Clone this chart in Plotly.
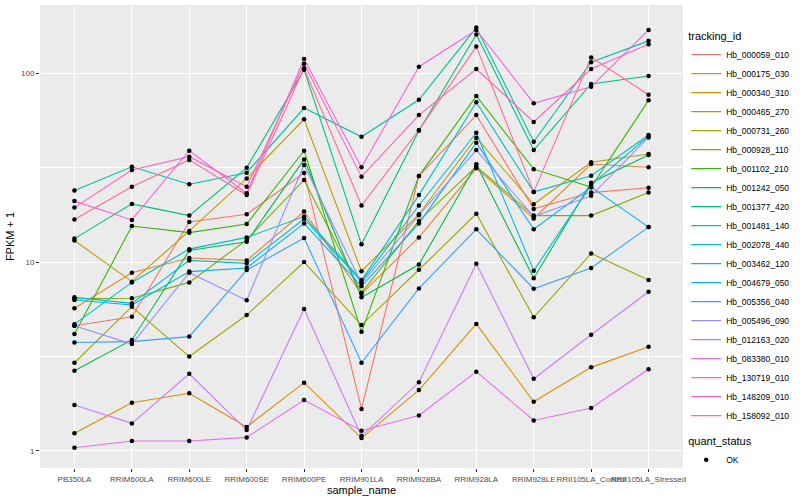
import plotly.graph_objects as go

samples = ["PB350LA", "RRIM600LA", "RRIM600LE", "RRIM600SE", "RRIM600PE", "RRIM901LA",
           "RRIM928BA", "RRIM928LA", "RRIM928LE", "RRII105LA_Control", "RRII105LA_Stressed"]

# FPKM + 1 values
Hb_000059_010 = [4.6, 5.13, 16.3, 17.9, 29.6, 1.67, 28.5, 59.9, 19.1, 23.3, 24.7]
Hb_000175_030 = [5.69, 8.78, 10.5, 10.2, 18.5, 6.78, 13.5, 31.3, 17.0, 33.0, 31.7]
Hb_000340_310 = [1.24, 1.80, 2.02, 1.34, 2.30, 1.17, 2.10, 4.70, 1.82, 2.77, 3.56]
Hb_000465_270 = [13.0, 7.87, 14.6, 27.7, 56.9, 8.94, 17.9, 45.5, 20.2, 33.7, 37.3]
Hb_000731_260 = [2.93, 5.8, 3.16, 5.24, 10.0, 4.64, 9.1, 18.0, 5.10, 11.1, 8.03]
Hb_000928_110 = [6.4, 6.43, 7.8, 13.1, 27.2, 6.88, 16.5, 32.0, 17.6, 17.6, 23.3]
Hb_001102_210 = [4.16, 15.5, 14.3, 15.9, 38.8, 4.27, 28.5, 75.6, 31.0, 24.9, 71.7]
Hb_001242_050 = [2.66, 3.87, 11.5, 12.8, 34.9, 6.5, 9.69, 32.9, 8.2, 26.3, 36.8]
Hb_001377_420 = [13.3, 20.3, 17.6, 31.5, 104, 12.4, 49.5, 160, 39.1, 87.5, 96.4]
Hb_001481_140 = [23.9, 31.9, 25.8, 29.7, 65.3, 46.0, 72.2, 174, 43.3, 114, 148]
Hb_002078_440 = [4.69, 7.8, 11.7, 13.5, 17.4, 8.03, 22.6, 70.0, 23.5, 28.6, 47.0]
Hb_003462_120 = [6.5, 6.04, 10.2, 9.83, 16.9, 7.87, 19.9, 48.3, 9.0, 25.6, 46.3]
Hb_004679_050 = [6.3, 5.92, 8.9, 9.3, 16.0, 7.44, 16.0, 42.8, 14.9, 24.9, 15.3]
Hb_005356_040 = [3.75, 3.79, 4.03, 9.06, 13.4, 2.93, 7.25, 14.9, 7.22, 9.3, 15.3]
Hb_005496_090 = [4.6, 3.68, 8.78, 6.28, 32.6, 7.7, 17.7, 39.1, 17.4, 22.4, 45.6]
Hb_012163_020 = [1.75, 1.40, 2.56, 1.29, 5.64, 1.20, 2.31, 9.78, 2.41, 4.12, 6.96]
Hb_083380_010 = [1.04, 1.13, 1.13, 1.18, 1.86, 1.28, 1.54, 2.63, 1.45, 1.69, 2.71]
Hb_130719_010 = [21.0, 16.7, 38.8, 23.1, 118.6, 31.7, 108, 169, 69.2, 84.6, 169]
Hb_148209_010 = [19.4, 30.7, 36.1, 25.0, 112, 28.3, 59.9, 105, 55.1, 105, 142]
Hb_158092_010 = [16.8, 25.0, 34.7, 22.6, 106, 19.9, 49.9, 138, 23.5, 121, 76.8]

tracking_ids = ["Hb_000059_010", "Hb_000175_030", "Hb_000340_310", "Hb_000465_270",
                "Hb_000731_260", "Hb_000928_110", "Hb_001102_210", "Hb_001242_050",
                "Hb_001377_420", "Hb_001481_140", "Hb_002078_440", "Hb_003462_120",
                "Hb_004679_050", "Hb_005356_040", "Hb_005496_090", "Hb_012163_020",
                "Hb_083380_010", "Hb_130719_010", "Hb_148209_010", "Hb_158092_010"]
series = [Hb_000059_010, Hb_000175_030, Hb_000340_310, Hb_000465_270, Hb_000731_260,
          Hb_000928_110, Hb_001102_210, Hb_001242_050, Hb_001377_420, Hb_001481_140,
          Hb_002078_440, Hb_003462_120, Hb_004679_050, Hb_005356_040, Hb_005496_090,
          Hb_012163_020, Hb_083380_010, Hb_130719_010, Hb_148209_010, Hb_158092_010]
colors = ["#F8766D", "#EA8331", "#D89000", "#C09B00", "#A3A500", "#7CAE00", "#39B600",
          "#00BB4E", "#00BF7D", "#00C1A3", "#00BFC4", "#00BAE0", "#00B0F6", "#35A2FF",
          "#9590FF", "#C77CFF", "#E76BF3", "#FA62DB", "#FF62BC", "#FF6C91"]

FONT = "Liberation Sans"
fig = go.Figure()
for name, vals, col in zip(tracking_ids, series, colors):
    fig.add_trace(go.Scatter(x=samples, y=vals, mode="lines", name=name,
                             line=dict(color=col, width=1.1), legend="legend"))

all_x, all_y = [], []
for vals in series:
    all_x += samples
    all_y += vals
fig.add_trace(go.Scatter(x=all_x, y=all_y, mode="markers", name="OK",
                         marker=dict(color="black", size=4.5, symbol="circle"),
                         legend="legend2"))

fig.update_layout(
    width=800, height=500,
    margin=dict(l=40, r=117, t=5, b=32, autoexpand=False),
    paper_bgcolor="white", plot_bgcolor="#EBEBEB",
    font=dict(family=FONT, size=9, color="black"),
    xaxis=dict(type="category", categoryorder="array", categoryarray=samples,
               range=[-0.6, 10.6], showgrid=True, gridcolor="white", gridwidth=1.1,
               zeroline=False, ticks="outside", ticklen=3, tickcolor="#333333",
               tickangle=0, automargin=False,
               tickfont=dict(size=8, color="#4D4D4D", family=FONT),
               title=dict(text="sample_name", font=dict(size=11, color="black"), standoff=0)),
    yaxis=dict(type="log", range=[-0.09, 2.36], tickvals=[1, 10, 100],
               ticktext=["1", "10", "100"], showgrid=True, gridcolor="white", gridwidth=1.1,
               zeroline=False, ticks="outside", ticklen=3, tickcolor="#333333",
               automargin=False,
               tickfont=dict(size=8, color="#4D4D4D", family=FONT),
               minor=dict(tickvals=[10 ** 0.5, 10 ** 1.5], showgrid=True,
                          gridcolor="white", gridwidth=0.5, ticks=""),
               title=dict(text="FPKM + 1", font=dict(size=11, color="black"), standoff=4)),
    legend=dict(title=dict(text="tracking_id", font=dict(size=11)), x=1.005, xanchor="left",
                y=0.955, yanchor="top", font=dict(size=8.5), bgcolor="rgba(0,0,0,0)",
                tracegroupgap=0, itemwidth=30),
    legend2=dict(title=dict(text="quant_status", font=dict(size=11)), x=1.005, xanchor="left",
                 y=0.08, yanchor="top", font=dict(size=8.5), bgcolor="rgba(0,0,0,0)",
                 itemwidth=30),
)

fig.write_html("out.html", config={"displayModeBar": False},
               post_script="document.body.style.margin='0';document.body.style.padding='0';")
